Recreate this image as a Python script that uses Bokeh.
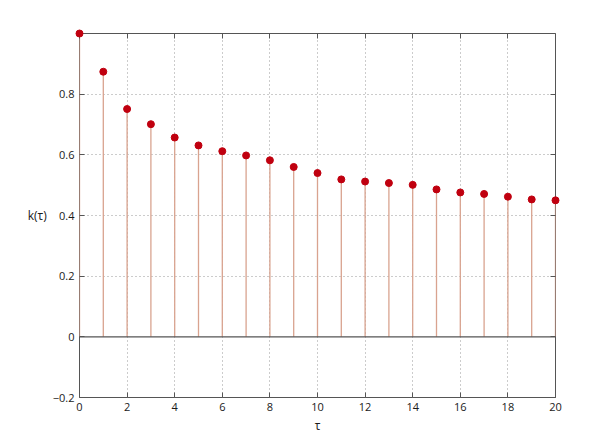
from bokeh.plotting import figure
from bokeh.models import FixedTicker, Span, LinearAxis, Range1d
from bokeh.embed import file_html
from bokeh.resources import INLINE

tau = list(range(21))
k = [1.0, 0.874, 0.751, 0.701, 0.657, 0.631, 0.612, 0.598, 0.582, 0.560,
     0.540, 0.519, 0.512, 0.507, 0.501, 0.486, 0.476, 0.471, 0.462, 0.453, 0.450]
x_ticks = [0, 2, 4, 6, 8, 10, 12, 14, 16, 18, 20]
y_ticks = [-0.2, 0, 0.2, 0.4, 0.6, 0.8]
y_tick_labels = ["\u22120.2", "0", "0.2", "0.4", "0.6", "0.8"]
x_label = "\u03c4"
y_label = "k(\u03c4)"

FONT = "Open Sans"
p = figure(width=604, height=439, output_backend="svg", toolbar_location=None,
           x_range=Range1d(0, 20), y_range=Range1d(-0.2, 1.0),
           min_border_left=79, min_border_top=33, min_border_right=49, min_border_bottom=42,
           frame_width=476, frame_height=364)
p.outline_line_color = "#555555"
p.outline_line_width = 1
p.background_fill_color = "white"
p.border_fill_color = "white"

for ax in (p.xaxis[0], p.yaxis[0]):
    ax.axis_line_color = None
    ax.major_tick_in = 5
    ax.major_tick_out = 0
    ax.minor_tick_line_color = None
    ax.major_tick_line_color = "#555555"
    ax.major_label_text_font = FONT
    ax.major_label_text_font_size = "11px"
    ax.major_label_text_color = "#1a1a1a"
    ax.axis_label_text_font = FONT
    ax.axis_label_text_font_size = "12px"
    ax.axis_label_text_font_style = "normal"
    ax.axis_label_text_color = "#1a1a1a"

p.xaxis[0].ticker = FixedTicker(ticks=x_ticks)
p.yaxis[0].ticker = FixedTicker(ticks=y_ticks)
p.yaxis[0].major_label_overrides = {t: l for t, l in zip(y_ticks, y_tick_labels)}
p.xaxis[0].axis_label = x_label
p.yaxis[0].axis_label = y_label
p.yaxis[0].axis_label_orientation = "horizontal"
p.xaxis[0].major_label_standoff = 5
p.xaxis[0].axis_label_standoff = 3
p.yaxis[0].major_label_standoff = 5
p.yaxis[0].axis_label_standoff = 3

# mirrored axes (ticks only)
top = LinearAxis(ticker=FixedTicker(ticks=x_ticks),
                 major_label_overrides={t: "" for t in x_ticks},
                 axis_line_color=None, major_tick_in=5, major_tick_out=0,
                 minor_tick_line_color=None, major_tick_line_color="#555555",
                 major_label_standoff=0)
right = LinearAxis(ticker=FixedTicker(ticks=y_ticks),
                   major_label_overrides={t: "" for t in y_ticks},
                   axis_line_color=None, major_tick_in=5, major_tick_out=0,
                   minor_tick_line_color=None, major_tick_line_color="#555555",
                   major_label_standoff=0)
p.add_layout(top, "above")
p.add_layout(right, "right")

p.xgrid.ticker = FixedTicker(ticks=x_ticks[1:-1])
p.ygrid.ticker = FixedTicker(ticks=[t for t in y_ticks if t > 0])
for g in (p.xgrid[0], p.ygrid[0]):
    g.grid_line_color = "#999999"
    g.grid_line_dash = "1 3"
    g.grid_line_width = 1

p.segment(x0=tau, y0=[0] * len(tau), x1=tau, y1=k, line_color="#d9a38f", line_width=1.3)
p.add_layout(Span(location=0, dimension="width", line_color="#555555", line_width=1.2))
p.scatter(tau, k, size=7, fill_color="#c0000f", line_color="#c0000f", level="overlay")

open("out.html", "w").write(file_html(p, INLINE))
